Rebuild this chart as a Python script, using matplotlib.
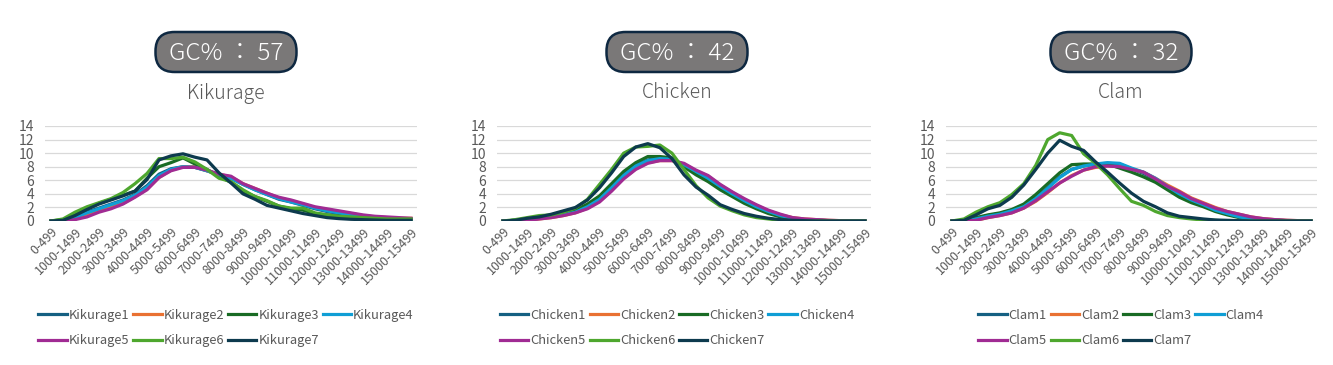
import numpy as np
import matplotlib
matplotlib.use("Agg")
import matplotlib.pyplot as plt
from matplotlib.patches import FancyBboxPatch

plt.rcParams['font.family'] = ['Noto Sans CJK JP', 'DejaVu Sans']

# x categories (read length in bp)
categories = [f"{i*500}-{i*500+499}" for i in range(31)]

# ---- Kikurage ----
kikurage = [
    [0, 0.1, 0.6, 1.3, 1.9, 2.5, 3.1, 3.9, 5.2, 6.9, 7.7, 8.0, 7.9, 7.4, 6.8, 6.3, 5.4, 4.6, 3.9, 3.2, 2.8, 2.3, 1.8, 1.4, 1.1, 0.8, 0.6, 0.5, 0.4, 0.3, 0.3],
    [0, 0.0, 0.3, 0.8, 1.5, 2.0, 2.6, 3.6, 4.7, 6.4, 7.5, 8.0, 8.0, 7.4, 6.9, 6.5, 5.5, 4.8, 4.1, 3.4, 3.0, 2.5, 2.0, 1.7, 1.4, 1.1, 0.8, 0.6, 0.5, 0.4, 0.4],
    [0, 0.2, 1.0, 1.9, 2.6, 3.2, 3.8, 4.4, 6.3, 8.0, 8.6, 9.3, 8.4, 7.6, 6.6, 5.7, 4.4, 3.6, 2.9, 2.2, 1.8, 1.6, 1.1, 0.9, 0.7, 0.5, 0.4, 0.3, 0.2, 0.2, 0.2],
    [0, 0.1, 0.5, 1.2, 1.8, 2.4, 3.0, 3.8, 5.0, 6.7, 7.6, 8.0, 7.9, 7.4, 6.8, 6.3, 5.4, 4.6, 3.9, 3.3, 2.8, 2.4, 1.9, 1.5, 1.2, 0.9, 0.7, 0.5, 0.4, 0.3, 0.3],
    [0, 0.0, 0.2, 0.6, 1.3, 1.8, 2.5, 3.5, 4.6, 6.4, 7.4, 7.9, 7.9, 7.5, 6.9, 6.6, 5.5, 4.8, 4.1, 3.5, 3.1, 2.6, 2.1, 1.8, 1.5, 1.2, 0.9, 0.7, 0.6, 0.5, 0.4],
    [0, 0.3, 1.3, 2.1, 2.7, 3.3, 4.2, 5.5, 7.0, 9.2, 9.2, 9.4, 8.7, 7.6, 6.3, 5.8, 4.6, 3.6, 3.0, 2.2, 1.9, 1.9, 1.2, 0.9, 0.7, 0.6, 0.5, 0.4, 0.3, 0.3, 0.3],
    [0, 0.1, 0.8, 1.7, 2.5, 3.1, 3.7, 4.4, 6.1, 9.0, 9.6, 9.9, 9.4, 9.0, 7.1, 5.6, 4.0, 3.2, 2.3, 1.9, 1.5, 1.1, 0.8, 0.5, 0.35, 0.25, 0.2, 0.15, 0.1, 0.1, 0.1],
]

# ---- Chicken ----
chicken = [
    [0, 0.1, 0.2, 0.4, 0.6, 1.0, 1.4, 2.2, 3.4, 5.1, 6.9, 8.2, 9.0, 9.3, 9.1, 8.2, 7.2, 6.2, 5.0, 3.9, 2.9, 2.0, 1.3, 0.8, 0.4, 0.2, 0.1, 0.05, 0, 0, 0],
    [0, 0.0, 0.1, 0.3, 0.5, 0.8, 1.2, 1.9, 2.9, 4.5, 6.3, 7.7, 8.6, 8.9, 8.9, 8.4, 7.4, 6.6, 5.3, 4.2, 3.2, 2.3, 1.5, 0.9, 0.5, 0.3, 0.2, 0.1, 0.05, 0, 0],
    [0, 0.1, 0.3, 0.5, 0.7, 1.1, 1.6, 2.5, 3.7, 5.5, 7.3, 8.6, 9.5, 9.5, 9.3, 8.0, 6.8, 5.8, 4.6, 3.6, 2.6, 1.8, 1.1, 0.6, 0.3, 0.15, 0.1, 0.05, 0, 0, 0],
    [0, 0.1, 0.2, 0.4, 0.6, 0.9, 1.3, 2.1, 3.2, 4.9, 6.7, 8.1, 8.9, 9.2, 9.1, 8.3, 7.3, 6.3, 5.1, 4.0, 3.0, 2.1, 1.4, 0.8, 0.4, 0.2, 0.1, 0.05, 0, 0, 0],
    [0, 0.0, 0.1, 0.3, 0.5, 0.8, 1.2, 1.8, 2.8, 4.4, 6.2, 7.6, 8.5, 8.9, 8.9, 8.5, 7.5, 6.7, 5.4, 4.3, 3.3, 2.4, 1.6, 1.0, 0.5, 0.3, 0.2, 0.1, 0.05, 0, 0],
    [0, 0.2, 0.5, 0.8, 0.9, 1.3, 1.9, 3.2, 5.4, 7.6, 10.0, 10.9, 11.0, 11.2, 10.0, 7.6, 5.2, 3.4, 2.2, 1.5, 0.9, 0.5, 0.3, 0.1, 0.05, 0, 0, 0, 0, 0, 0],
    [0, 0.1, 0.4, 0.6, 1.0, 1.5, 2.0, 3.1, 4.9, 7.1, 9.5, 10.9, 11.4, 10.8, 9.2, 6.8, 5.0, 3.8, 2.4, 1.7, 1.1, 0.7, 0.4, 0.2, 0.1, 0.05, 0, 0, 0, 0, 0],
]

# ---- Clam ----
clam = [
    [0, 0.0, 0.3, 0.8, 1.1, 1.6, 2.2, 3.4, 4.9, 6.5, 7.6, 8.1, 8.4, 8.5, 8.4, 7.7, 7.0, 6.1, 5.0, 3.9, 3.0, 2.3, 1.6, 1.1, 0.6, 0.35, 0.2, 0.1, 0.05, 0, 0],
    [0, 0.0, 0.1, 0.5, 0.8, 1.2, 1.9, 2.9, 4.2, 5.6, 6.7, 7.5, 7.9, 8.1, 8.0, 7.7, 7.2, 6.3, 5.3, 4.4, 3.4, 2.7, 2.0, 1.4, 1.0, 0.6, 0.35, 0.2, 0.1, 0.05, 0],
    [0, 0.0, 0.5, 0.9, 1.2, 1.7, 2.5, 3.9, 5.5, 7.1, 8.3, 8.4, 8.4, 8.4, 7.8, 7.2, 6.5, 5.7, 4.6, 3.5, 2.7, 2.1, 1.4, 0.9, 0.5, 0.3, 0.15, 0.1, 0.05, 0, 0],
    [0, 0.0, 0.3, 0.7, 1.0, 1.5, 2.1, 3.3, 4.8, 6.4, 7.6, 8.1, 8.4, 8.6, 8.5, 7.8, 7.2, 6.3, 5.1, 4.0, 3.1, 2.4, 1.6, 1.1, 0.6, 0.35, 0.2, 0.1, 0.05, 0, 0],
    [0, 0.0, 0.1, 0.5, 0.8, 1.2, 1.9, 3.0, 4.3, 5.6, 6.6, 7.5, 8.0, 8.1, 8.0, 7.6, 7.2, 6.2, 5.1, 4.3, 3.3, 2.6, 1.9, 1.4, 1.0, 0.6, 0.35, 0.2, 0.1, 0.05, 0],
    [0, 0.3, 1.3, 2.1, 2.7, 3.9, 5.5, 8.2, 12.0, 13.0, 12.6, 9.9, 8.5, 6.8, 4.8, 2.9, 2.3, 1.4, 0.8, 0.5, 0.3, 0.15, 0.1, 0, 0, 0, 0, 0, 0, 0, 0],
    [0, 0.1, 0.9, 1.8, 2.3, 3.5, 5.3, 7.6, 10.0, 11.9, 11.0, 10.4, 8.7, 7.2, 5.6, 4.1, 2.9, 2.1, 1.2, 0.7, 0.5, 0.3, 0.15, 0.1, 0.05, 0, 0, 0, 0, 0, 0],
]

names = ["Kikurage", "Chicken", "Clam"]
gc_values = [57, 42, 32]
datasets = [kikurage, chicken, clam]

colors = ["#156082", "#E97132", "#196B24", "#0F9ED5", "#A02B93", "#4EA72E", "#0D3A4E"]
text_gray = "#595959"

fig = plt.figure(figsize=(13.33, 3.65), dpi=100)
W, H = 1333, 365

# overlay in pixel units for the GC% badges
over = fig.add_axes([0, 0, 1, 1])
over.set_xlim(0, W)
over.set_ylim(H, 0)
over.axis("off")

# axes pixel extents (left, right) and panel centre for titles / legends
ax_px = [(45, 417), (497, 871), (946, 1317)]
centers = [226, 677, 1121]
top_px, bot_px = 126, 221

x = np.arange(len(categories))
for k in range(3):
    l, r = ax_px[k]
    ax = fig.add_axes([l / W, 1 - bot_px / H, (r - l) / W, (bot_px - top_px) / H])
    handles = []
    for j, series in enumerate(datasets[k]):
        h, = ax.plot(x, series, color=colors[j], lw=2.3, label=f"{names[k]}{j+1}",
                     solid_joinstyle="round")
        handles.append(h)
    ax.set_xlim(-0.5, len(categories) - 0.5)
    ax.set_ylim(0, 14)
    ax.set_yticks(range(0, 15, 2))
    ax.set_xticks(x[::2])
    ax.set_xticklabels(categories[::2], rotation=45, ha="right", rotation_mode="anchor",
                       fontsize=9, color=text_gray)
    ax.tick_params(axis="y", labelsize=10, labelcolor=text_gray, length=0, pad=8)
    ax.tick_params(axis="x", length=0, pad=3)
    for s in ax.spines.values():
        s.set_visible(False)
    ax.grid(axis="y", color="#D9D9D9", lw=0.9)
    ax.set_axisbelow(True)

    c = centers[k]
    bw, bh = 141, 40
    over.add_patch(FancyBboxPatch((c - bw / 2, 52 - bh / 2), bw, bh,
                                  boxstyle="round,pad=0,rounding_size=19",
                                  fc="#7A7878", ec="#0E2841", lw=1.8))
    over.text(c, 53, f"GC% ： {gc_values[k]}", ha="center", va="center",
              fontsize=17.5, color="white", fontweight="light")
    over.text(c, 93, names[k], ha="center", va="center", fontsize=14,
              color=text_gray, fontweight="light")

    order = [0, 4, 1, 5, 2, 6, 3]
    fig.legend([handles[i] for i in order], [handles[i].get_label() for i in order],
               ncol=4, loc="center", bbox_to_anchor=(c / W, 1 - 328 / H), frameon=False,
               fontsize=9.3, labelcolor=text_gray, handlelength=2.2, handletextpad=0.15,
               columnspacing=0.3, labelspacing=0.95)

fig.savefig("out.png", dpi=100)
